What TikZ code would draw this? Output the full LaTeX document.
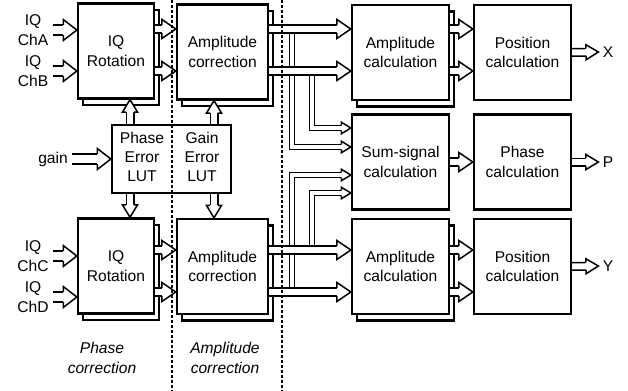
\documentclass[tikz,border=0pt]{standalone}
\usepackage{fontspec}
\setmainfont{Liberation Sans}
\usetikzlibrary{arrows.meta,shadows}

\newcommand{\blockfont}{\fontsize{7.8}{9.7}\selectfont}

% hollow head for the double-line buses, inset = half the shaft width
\pgfdeclarearrow{
  name = BusTip,
  parameters = {\the\pgfarrowlength,\the\pgfarrowwidth,\the\pgfarrowinset,\the\pgfarrowlinewidth},
  setup code = {
    \pgfarrowssettipend{0pt}
    \pgfarrowssetbackend{-\pgfarrowlength}
    \pgfarrowssetlineend{-\pgfarrowlength}
    \pgfarrowssavethe\pgfarrowlength
    \pgfarrowssavethe\pgfarrowwidth
    \pgfarrowssavethe\pgfarrowinset
    \pgfarrowssavethe\pgfarrowlinewidth
  },
  drawing code = {
    \pgfsetdash{}{+0pt}
    \pgfsetlinewidth{\pgfarrowlinewidth}
    \pgfpathmoveto{\pgfqpoint{-\pgfarrowlength}{\pgfarrowinset}}
    \pgfpathlineto{\pgfqpoint{-\pgfarrowlength}{.5\pgfarrowwidth}}
    \pgfpathlineto{\pgfpointorigin}
    \pgfpathlineto{\pgfqpoint{-\pgfarrowlength}{-.5\pgfarrowwidth}}
    \pgfpathlineto{\pgfqpoint{-\pgfarrowlength}{-\pgfarrowinset}}
    \pgfusepathqfillstroke
  },
  defaults = {length=7pt, width=9pt, inset=2pt, line width=0.75pt}
}

\tikzset{
  block/.style={draw, fill=white, line width=1.15pt, align=center,
    minimum width=48.5pt, minimum height=47.5pt, inner sep=1pt},
  stack/.style={block, copy shadow={shadow xshift=2.6pt, shadow yshift=-3.2pt}},
  bus/.style={double, double distance=3.3pt, line width=0.75pt,
    -{BusTip[width=9.5pt,length=7pt,inset=2.03pt,line width=0.75pt,fill=white]}},
  inbus/.style={bus, double distance=4.4pt,
    -{BusTip[width=10.5pt,length=6.8pt,inset=2.58pt,line width=0.75pt,fill=white]}},
  midbus/.style={bus, double distance=3pt,
    -{BusTip[width=7.5pt,length=6.2pt,inset=1.88pt,line width=0.75pt,fill=white]}},
  thinbus/.style={bus, double distance=1.65pt,
    -{BusTip[width=5.8pt,length=4.8pt,inset=1.2pt,line width=0.75pt,fill=white]}},
  lbl/.style={align=center, inner sep=2pt},
  border/.style={line width=0.7pt, dash pattern=on 1.3pt off 1.2pt},
}

\begin{document}
\begin{tikzpicture}[x=0.5pt,y=-0.5pt,font=\blockfont]
  \useasboundingbox (0,0) rectangle (628,391);
  % rows and columns of the buses
  \coordinate (rowa) at (0,29);
  \coordinate (rowb) at (0,71);
  \coordinate (rowc) at (0,250);
  \coordinate (rowd) at (0,292);
  \coordinate (suma) at (0,128);
  \coordinate (sumb) at (0,147);
  \coordinate (sumc) at (0,175);
  \coordinate (sumd) at (0,193);
  \coordinate (xo) at (292,0);
  \coordinate (xi) at (312,0);
  \coordinate (phx) at (130,0);
  \coordinate (gnx) at (214,0);

  % blocks
  \node[stack, minimum width=38pt] (rotA) at (116,51) {IQ\\Rotation};
  \node[stack, minimum width=45.5pt] (ampA) at (222.5,52) {Amplitude\\correction};
  \node[stack, minimum width=38pt] (rotC) at (116,266) {IQ\\Rotation};
  \node[stack, minimum width=45.5pt] (ampC) at (222.5,266.5) {Amplitude\\correction};
  \node[block, minimum width=59.5pt, minimum height=34pt] (lut) at (171.5,159) {};
  \node[lbl] (phaselut) at (142,157) {Phase\\Error\\LUT};
  \node[lbl] (gainlut) at (202,157) {Gain\\Error\\LUT};
  \node[stack] (calcA) at (400.5,52.5) {Amplitude\\calculation};
  \node[block] (posA) at (522.5,52.5) {Position\\calculation};
  \node[block] (sum) at (400.5,162) {Sum-signal\\calculation};
  \node[block] (phase) at (522.5,162) {Phase\\calculation};
  \node[stack] (calcC) at (400.5,266.5) {Amplitude\\calculation};
  \node[block] (posC) at (522.5,266.5) {Position\\calculation};

  % labels
  \node[lbl] (chA) at (33,30) {IQ\\ChA};
  \node[lbl] (chB) at (33,71) {IQ\\ChB};
  \node[lbl] (chC) at (33,256) {IQ\\ChC};
  \node[lbl] (chD) at (33,297) {IQ\\ChD};
  \node[lbl] (gain) at (53,159) {gain};
  \node[lbl] (xout) at (608,52) {X};
  \node[lbl] (pout) at (608,162) {P};
  \node[lbl] (yout) at (608,266) {Y};
  \node[lbl, font=\blockfont\itshape] (phcorr) at (102,358) {Phase\\correction};
  \node[lbl, font=\blockfont\itshape] (amcorr) at (225,358) {Amplitude\\correction};

  % branches to the sum signal
  \draw[thinbus] (xo |- rowa) |- (sum.west |- sumb);
  \draw[thinbus] (xi |- rowb) |- (sum.west |- suma);
  \draw[thinbus] (xi |- rowc) |- (sum.west |- sumd);
  \draw[thinbus] (xo |- rowd) |- (sum.west |- sumc);

  % inputs
  \draw[inbus] (chA.east) -- (rotA.west |- chA.east);
  \draw[inbus] (chB.east) -- (rotA.west |- chB.east);
  \draw[inbus] (chC.east) -- (rotC.west |- chC.east);
  \draw[inbus] (chD.east) -- (rotC.west |- chD.east);
  \draw[inbus] (gain.east) -- (lut.west |- gain.east);
  \draw[midbus] (lut.north -| phx) -- (rotA.south -| phx);
  \draw[midbus] (lut.north -| gnx) -- (ampA.south -| gnx);
  \draw[midbus] (lut.south -| phx) -- (rotC.north -| phx);
  \draw[midbus] (lut.south -| gnx) -- (ampC.north -| gnx);

  % data path
  \foreach \r in {rowa,rowb} {
    \draw[bus] (rotA.east |- \r) -- (ampA.west |- \r);
    \draw[bus] (ampA.east |- \r) -- (calcA.west |- \r);
    \draw[bus] (calcA.east |- \r) -- (posA.west |- \r);
  }
  \foreach \r in {rowc,rowd} {
    \draw[bus] (rotC.east |- \r) -- (ampC.west |- \r);
    \draw[bus] (ampC.east |- \r) -- (calcC.west |- \r);
    \draw[bus] (calcC.east |- \r) -- (posC.west |- \r);
  }
  \draw[bus] (sum.east) -- (phase.west);
  \draw[midbus] (posA.east) -- (xout.west);
  \draw[midbus] (phase.east) -- (pout.west);
  \draw[midbus] (posC.east) -- (yout.west);

  % stage borders
  \draw[border] (172,0) -- (172,391);
  \draw[border] (282,0) -- (282,391);
\end{tikzpicture}
\end{document}
